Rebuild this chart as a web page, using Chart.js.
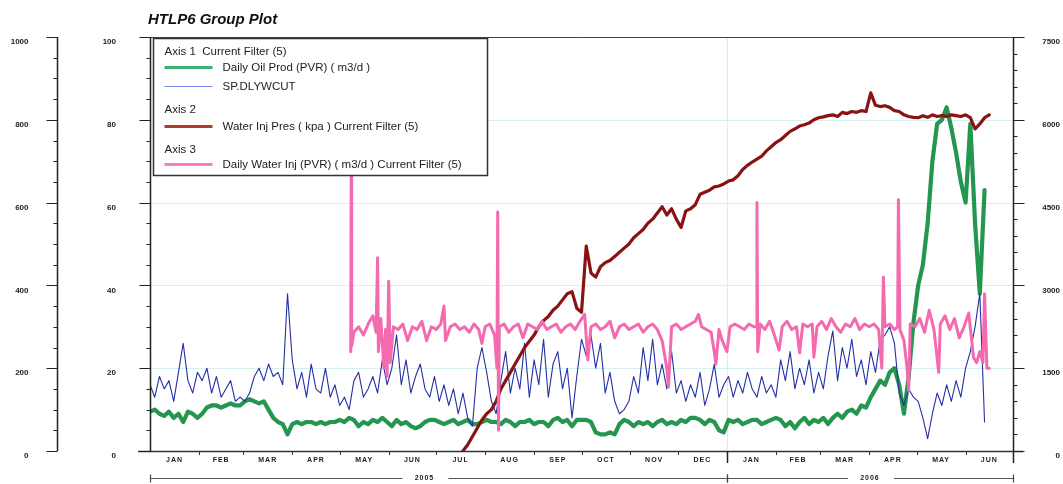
<!DOCTYPE html>
<html><head><meta charset="utf-8">
<script src="https://cdn.jsdelivr.net/npm/chart.js@4.4.1/dist/chart.umd.min.js"></script>
<style>html,body{margin:0;padding:0;background:#fff}</style>
</head><body>
<canvas id="c" width="1063" height="484"></canvas>
<script>
// ---------------- DATA ----------------
const chartTitle = 'HTLP6 Group Plot';
const monthLabels = ['JAN','FEB','MAR','APR','MAY','JUN','JUL','AUG','SEP','OCT','NOV','DEC','JAN','FEB','MAR','APR','MAY','JUN'];
const monthStartDays = [0,31,59,90,120,151,181,212,243,273,304,334,365,396,424,455,485,516,546];
const yearLabels = ['2005','2006'];
const yearStartDays = [0,365,546];
const axis1Ticks = [0,20,40,60,80,100];
const axis2Ticks = [0,200,400,600,800,1000];
const axis3Ticks = [0,1500,3000,4500,6000,7500];
const legendAxis1 = 'Axis 1  Current Filter (5)';
const legendAxis2 = 'Axis 2';
const legendAxis3 = 'Axis 3';
const seriesNames = ['Daily Oil Prod (PVR) ( m3/d )','SP.DLYWCUT','Water Inj Pres ( kpa ) Current Filter (5)','Daily Water Inj (PVR) ( m3/d ) Current Filter (5)'];

const sampleStepDays = 3;           // spacing of the sampled series (days)
const oilStartDay = 0;              // Axis 1
const oilProd = [
 9.5,10,9,8.5,9.5,8,9,7,9.5,9,8,
 9,10.5,11,11,10.5,11,11.5,11,11,
 12,12.5,12,11.5,12,10,8,7,6.5,4,
 6.5,7,6.5,7,7,6.5,7,6.5,7,7,
 7.5,7,8,7.5,6,7,6.5,7.5,7,8,
 7,6,7.5,6.5,7,6,5.5,6,7,7.5,
 7.5,7,6.5,7,7.5,6.5,7,7.5,6.5,6.5,
 7,7.5,7,7,6.5,7.5,7,6,7,7,
 7.5,6.5,7,7,6,7.5,8,7,7.5,6,
 7.5,7.5,7.5,7,4.5,4,4,4.5,4,6.5,7.5,
 7,6,7,6.5,7,6,7,7.5,6.5,7,
 6.5,7.5,7,8,8,7.5,6.5,7.5,7,5,4.5,
 7.5,7,7.5,6.5,7,7.5,7.5,6.5,7,7.5,
 8,7.5,6,7,5.5,7,8,6.5,7.5,
 7,8,6.5,8,9,8,9.5,10,9,11,10.5,
 13,15,17,16,19,20,16,9,18,31,
 40,45,55,70,79,80,83,78,72,65,
 60,79,55,38,63
];
const wcutStartDay = 0;             // Axis 1
const waterCut = [
 16,13,18,15,17,12,19,26,17,14,19,
 17,20,14,18,13,15,17,12,13,
 12,14,18,20,17,21,18,19,16,38,
 22,15,19,13,21,15,14,20,13,16,
 11,13,10,17,19,13,15,18,14,22,
 16,20,28,16,22,14,18,21,15,13,
 18,12,16,11,15,9,14,8,6,20,
 25,19,12,9,17,24,14,20,15,26,
 13,22,16,27,13,21,24,15,20,8,
 18,27,23,28,20,26,14,19,12,9,10,
 12,18,14,25,17,27,16,21,15,24,
 14,17,12,16,13,19,11,15,21,13,16,
 18,13,17,14,19,15,13,18,14,16,
 13,22,17,24,15,20,16,22,14,
 19,15,23,29,17,25,20,27,18,22,16,
 24,19,27,28,30,26,14,11,15,13,
 12,8,3,9,14,11,16,12,17,13,
 20,24,30,38,7
];
const presStartDay = 198;           // Axis 2 (kPa)
const injPressure = [
 0,15,35,55,75,90,100,120,150,170,
 190,210,230,250,265,280,300,315,325,340,
 350,365,380,385,345,335,495,430,420,445,
 455,460,470,480,490,500,515,525,535,550,
 560,575,590,570,585,560,540,580,585,595,
 620,625,630,638,640,645,652,655,665,680,
 690,698,705,712,725,735,745,752,762,772,
 778,785,788,792,800,805,807,810,812,808,
 818,815,820,818,822,820,865,835,832,834,
 830,822,820,812,808,806,805,810,806,812,
 808,810,808,812,810,808,812,805,778,790,
 805,812
];
// Axis 3 (m3/d): [day, value]
const waterInjPoints = [
 [127,1800],[127.3,5100],[127.6,1900],[129,2150],[132,2250],[135,2100],[138,2300],[141,2450],[143,2150],[144,3500],[144.5,1800],
 [146,2400],[148,1500],[149,2200],[150,1350],[151,3075],[152,1600],[154,2250],[157,2200],[160,2300],[163,2000],[166,2250],
 [169,2200],[172,2350],[175,2000],[178,2250],[181,2200],[184,2300],[186,2625],[187,2000],[190,2250],[193,2300],[196,2200],
 [199,2250],[202,2150],[205,2300],[208,2200],[210,1950],[212,2250],[215,2300],[218,2100],[219.5,1500],[220,4330],[220.5,375],
 [221,2250],[224,2300],[227,2150],[230,2250],[233,2300],[236,2050],[239,2300],[242,2250],[245,2200],[248,2350],[251,2200],
 [254,2250],[257,2300],[260,2150],[263,2250],[266,2300],[269,2200],[272,2350],[275,2475],[277,1650],[279,2250],[282,2300],
 [285,2200],[288,2250],[291,2350],[294,2050],[297,2250],[300,2300],[303,2200],[306,2250],[309,2300],[312,2150],[315,2250],
 [318,2300],[321,2200],[324,2000],[327,1500],[328,1160],[330,2250],[333,2300],[336,2200],[339,2250],[342,2300],[345,2350],
 [347,2475],[349,2250],[352,2200],[355,2150],[357,1800],[358,1575],[360,2200],[362,2000],[365,1800],[367,2250],[370,2300],
 [373,2250],[376,2200],[379,2300],[382,2250],[383.5,2250],[384,4500],[384.5,1800],[386,2300],[389,2200],[392,2350],[395,2100],
 [398,1830],[400,2250],[403,2350],[406,2200],[409,2250],[411,1780],[413,2300],[416,2250],[419,2300],[420,1700],[422,2250],
 [425,2350],[428,2200],[431,2400],[434,2250],[437,2150],[440,2300],[443,2250],[446,2400],[449,2200],[452,2300],[455,2250],
 [458,2300],[461,2200],[463,1500],[464,3150],[465,2250],[468,2300],[471,2200],[473,2250],[473.5,4550],[474.5,2200],[477,2000],
 [479,1500],[480,1100],[481,2300],[484,2250],[487,2400],[490,2150],[493,2550],[496,2200],[499,1425],[500,2300],[503,2450],
 [506,2200],[509,2400],[512,2050],[515,2250],[518,2500],[521,1700],[523,1600],[525,1800],[527,1600],[528,2850],[529.5,1500],[531,1500]
];

// ---------------- helpers ----------------
const toXY = (arr, start, step) => arr.map((v, i) => ({x: start + i * step, y: v}));
const FONT = '"Liberation Sans", Arial, sans-serif';

const colors = {
  oil: '#25964f', wcut: '#2330a6', pres: '#8a1212', inj: '#f46aae',
  oilLeg: '#3fae6e', wcutLeg: '#6d8fe8', presLeg: '#b53a2a', injLeg: '#f77cc0'
};

const axesPlugin = {
  id: 'customAxes',
  beforeDatasetsDraw(chart) {
    const {ctx, chartArea: a, scales} = chart;
    ctx.save();
    ctx.strokeStyle = '#d6f0f2';
    ctx.lineWidth = 1;
    axis1Ticks.forEach(t => {
      if (t === axis1Ticks[0] || t === axis1Ticks[axis1Ticks.length - 1]) return;
      const y = Math.round(scales.y1.getPixelForValue(t)) + 0.5;
      ctx.beginPath(); ctx.moveTo(a.left, y); ctx.lineTo(a.right, y); ctx.stroke();
    });
    const xj = Math.round(scales.x.getPixelForValue(yearStartDays[1])) + 0.5;
    ctx.beginPath(); ctx.moveTo(xj, a.top); ctx.lineTo(xj, a.bottom); ctx.stroke();
    ctx.restore();
  },
  afterDatasetsDraw(chart) {
    const {ctx, chartArea: a, scales} = chart;
    const sx = scales.x, s1 = scales.y1, s2 = scales.y2, s3 = scales.y3;
    ctx.save();
    const seg = (x1, y1, x2, y2, w, c) => {
      ctx.strokeStyle = c || '#222'; ctx.lineWidth = w || 1;
      ctx.beginPath(); ctx.moveTo(x1, y1); ctx.lineTo(x2, y2); ctx.stroke();
    };
    // top border
    seg(a.left, a.top + 0.5, a.right, a.top + 0.5, 1, '#444');
    // bottom axis
    seg(a.left - 12, a.bottom + 0.5, a.right + 10, a.bottom + 0.5, 1.5, '#333');

    // --- inner left axis (Axis 1) ---
    const xi = a.left + 0.5;
    seg(xi, a.top, xi, a.bottom + 1, 1.5, '#222');
    for (let v = axis1Ticks[0]; v <= axis1Ticks[axis1Ticks.length - 1]; v += 5) {
      const y = Math.round(s1.getPixelForValue(v)) + 0.5;
      const major = axis1Ticks.includes(v);
      seg(xi - (major ? 11 : 4), y, xi, y, 1, '#222');
    }
    ctx.fillStyle = '#222';
    ctx.font = 'bold 8px ' + FONT;
    ctx.textAlign = 'right'; ctx.textBaseline = 'middle';
    axis1Ticks.forEach(t => ctx.fillText(String(t), a.left - 34, s1.getPixelForValue(t) + 5));

    // --- far left axis (Axis 2) ---
    const x2 = a.left - 93 + 0.5;
    seg(x2, s2.getPixelForValue(axis2Ticks[axis2Ticks.length - 1]), x2, s2.getPixelForValue(0), 1.5, '#222');
    for (let v = 0; v <= axis2Ticks[axis2Ticks.length - 1]; v += 50) {
      const y = Math.round(s2.getPixelForValue(v)) + 0.5;
      const major = axis2Ticks.includes(v);
      seg(x2 - (major ? 11 : 4), y, x2, y, 1, '#222');
    }
    axis2Ticks.forEach(t => ctx.fillText(String(t), x2 - 29, s2.getPixelForValue(t) + 5));

    // --- right axis (Axis 3) ---
    const x3 = a.right + 0.5;
    seg(x3, a.top, x3, a.bottom + 12, 1.5, '#222');
    for (let v = 0; v <= axis3Ticks[axis3Ticks.length - 1]; v += 300) {
      const y = Math.round(s3.getPixelForValue(v)) + 0.5;
      const major = axis3Ticks.includes(v);
      seg(x3, y, x3 + (major ? 11 : 4), y, 1, '#222');
    }
    ctx.textAlign = 'right';
    axis3Ticks.forEach(t => ctx.fillText(String(t), a.right + 47, s3.getPixelForValue(t) + 5));

    // --- month ticks & labels ---
    ctx.textAlign = 'center';
    ctx.font = 'bold 7px ' + FONT;
    if ('letterSpacing' in ctx) ctx.letterSpacing = '1px';
    monthStartDays.forEach((d, i) => {
      const x = Math.round(sx.getPixelForValue(d)) + 0.5;
      if (d === yearStartDays[1]) {
        seg(x, a.bottom, x, a.bottom + 12, 1.5, '#222');
      } else if (i > 0 && i < monthStartDays.length - 1) {
        seg(x, a.bottom, x, a.bottom + 4, 1, '#333');
      }
      if (i < monthLabels.length) {
        const xm = (sx.getPixelForValue(d) + sx.getPixelForValue(monthStartDays[i + 1])) / 2;
        ctx.fillText(monthLabels[i], xm, a.bottom + 9);
      }
    });

    // --- year brackets ---
    const yb = a.bottom + 27.5;
    yearLabels.forEach((lab, i) => {
      const x0 = sx.getPixelForValue(yearStartDays[i]);
      const x1 = sx.getPixelForValue(yearStartDays[i + 1]);
      const xm = i === 0 ? (x0 + x1) / 2 - 14 : (x0 + x1) / 2;
      ctx.fillText(lab, xm, yb);
      seg(x0, yb, xm - 22, yb, 1.2, '#555');
      seg(xm + 24, yb, x1, yb, 1.2, '#555');
      seg(Math.round(x0) + 0.5, yb - 4, Math.round(x0) + 0.5, yb + 4, 1.2, '#444');
      seg(Math.round(x1) + 0.5, yb - 4, Math.round(x1) + 0.5, yb + 4, 1.2, '#444');
    });
    if ('letterSpacing' in ctx) ctx.letterSpacing = '0px';

    // --- title ---
    ctx.textAlign = 'left'; ctx.textBaseline = 'alphabetic';
    ctx.fillStyle = '#111';
    ctx.font = 'italic bold 15px ' + FONT;
    ctx.fillText(chartTitle, a.left - 2, 24);

    // --- legend ---
    const lx = a.left + 3.5, ly = a.top + 1.5, lw = 334, lh = 137;
    ctx.fillStyle = '#fff';
    ctx.fillRect(lx, ly, lw, lh);
    ctx.strokeStyle = '#333'; ctx.lineWidth = 1.5;
    ctx.strokeRect(lx, ly, lw, lh);
    ctx.fillStyle = '#222';
    ctx.font = '11.5px ' + FONT;
    ctx.textBaseline = 'middle';
    const tx = lx + 11, sx0 = lx + 11, sx1 = lx + 59, nx = lx + 69;
    ctx.fillText(legendAxis1, tx, ly + 13);
    seg(sx0, ly + 29, sx1, ly + 29, 3, colors.oilLeg); ctx.fillText(seriesNames[0], nx, ly + 29);
    seg(sx0, ly + 48, sx1, ly + 48, 1, colors.wcutLeg); ctx.fillText(seriesNames[1], nx, ly + 48);
    ctx.fillText(legendAxis2, tx, ly + 71);
    seg(sx0, ly + 88, sx1, ly + 88, 3, colors.presLeg); ctx.fillText(seriesNames[2], nx, ly + 88);
    ctx.fillText(legendAxis3, tx, ly + 111);
    seg(sx0, ly + 126, sx1, ly + 126, 3, colors.injLeg); ctx.fillText(seriesNames[3], nx, ly + 126);
    ctx.restore();
  }
};

new Chart(document.getElementById('c'), {
  type: 'line',
  data: {
    datasets: [
      {label: seriesNames[3], data: waterInjPoints.map(p => ({x: p[0], y: p[1]})), yAxisID: 'y3',
       borderColor: colors.inj, borderWidth: 3, order: 0},
      {label: seriesNames[2], data: toXY(injPressure, presStartDay, sampleStepDays), yAxisID: 'y2',
       borderColor: colors.pres, borderWidth: 3.2, order: 1},
      {label: seriesNames[1], data: toXY(waterCut, wcutStartDay, sampleStepDays), yAxisID: 'y1',
       borderColor: colors.wcut, borderWidth: 1.1, order: 2},
      {label: seriesNames[0], data: toXY(oilProd, oilStartDay, sampleStepDays), yAxisID: 'y1',
       borderColor: colors.oil, borderWidth: 4.2, order: 3}
    ]
  },
  options: {
    responsive: false,
    animation: false,
    parsing: true,
    elements: {point: {radius: 0}, line: {tension: 0, borderJoinStyle: 'round', borderCapStyle: 'round'}},
    layout: {padding: {left: 150, right: 50, top: 37, bottom: 33}},
    plugins: {legend: {display: false}, tooltip: {enabled: false}, title: {display: false}},
    scales: {
      x: {type: 'linear', min: monthStartDays[0], max: monthStartDays[monthStartDays.length - 1], display: false},
      y1: {type: 'linear', min: axis1Ticks[0], max: axis1Ticks[axis1Ticks.length - 1], display: false},
      y2: {type: 'linear', min: axis2Ticks[0], max: axis2Ticks[axis2Ticks.length - 1], display: false},
      y3: {type: 'linear', min: axis3Ticks[0], max: axis3Ticks[axis3Ticks.length - 1], display: false}
    }
  },
  plugins: [axesPlugin]
});
</script>
</body></html>
